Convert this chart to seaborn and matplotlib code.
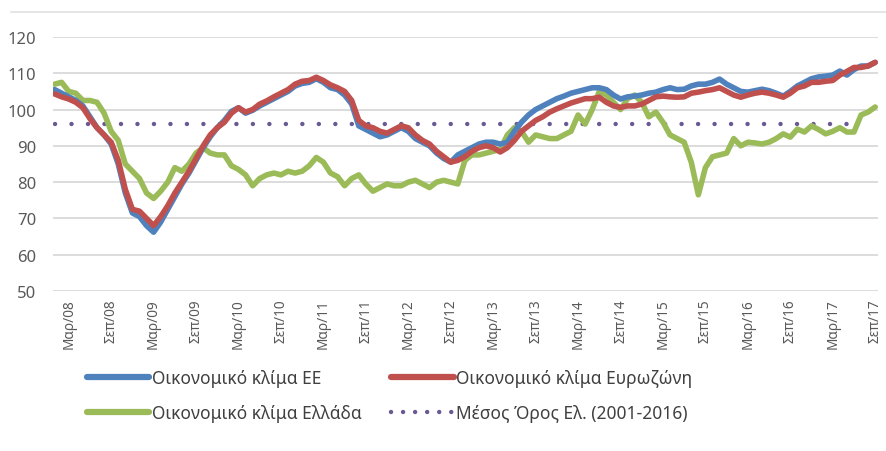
import numpy as np
import pandas as pd
import matplotlib
matplotlib.use('Agg')
import matplotlib.pyplot as plt
from matplotlib.lines import Line2D
import seaborn as sns

# Monthly values, Jan 2008 - Sep 2017 (117 months)
eu_climate = [
    105.5, 104.5, 103.5, 102.5, 101.0, 98.0, 95.0, 93.0, 90.5, 85.0, 77.0, 71.5,
    70.5, 68.0, 66.2, 69.0, 72.5, 76.0, 79.5, 82.5, 86.0, 89.5, 92.5, 95.0,
    97.0, 99.5, 100.5, 99.0, 99.8, 101.0, 102.0, 103.0, 104.0, 105.0, 106.5, 107.2,
    107.5, 108.5, 107.5, 106.0, 105.5, 104.0, 101.5, 95.5, 94.5, 93.5, 92.5, 93.0,
    94.0, 95.0, 94.0, 92.0, 91.0, 90.0, 88.0, 86.5, 85.5, 87.5, 88.5, 89.5,
    90.5, 91.0, 91.0, 90.5, 91.0, 94.0, 96.5, 98.5, 100.0, 101.0, 102.0, 103.0,
    103.7, 104.5, 105.0, 105.5, 106.0, 106.0, 105.5, 104.0, 102.9, 103.5, 103.7, 104.0,
    104.5, 104.8, 105.5, 106.0, 105.5, 105.6, 106.5, 107.0, 107.0, 107.5, 108.4, 107.0,
    106.0, 105.0, 104.8, 105.2, 105.6, 105.2, 104.5, 103.7, 105.0, 106.5, 107.5, 108.5,
    109.0, 109.2, 109.5, 110.6, 109.5, 111.0, 112.0, 112.0, 113.0,
]
ez_climate = [
    104.3, 103.5, 102.9, 102.0, 100.5, 97.5, 95.0, 93.0, 91.0, 86.0, 78.0, 72.5,
    72.0, 70.0, 68.0, 70.5, 73.5, 77.0, 80.0, 83.0, 86.5, 90.0, 93.0, 95.0,
    96.5, 99.0, 100.5, 99.3, 100.0, 101.5, 102.4, 103.5, 104.5, 105.5, 107.0, 107.8,
    108.0, 108.9, 108.0, 106.8, 106.0, 105.0, 102.5, 97.0, 95.5, 95.0, 94.0, 93.5,
    94.5, 95.5, 95.0, 93.0, 91.5, 90.5, 88.5, 87.0, 85.5, 86.0, 87.0, 88.5,
    89.5, 90.0, 89.5, 88.3, 89.5, 91.5, 94.0, 95.5, 97.0, 98.0, 99.3, 100.2,
    101.0, 101.8, 102.4, 103.0, 103.0, 103.4, 102.0, 101.0, 100.6, 101.0, 101.0, 101.5,
    102.5, 103.5, 103.7, 103.5, 103.4, 103.5, 104.5, 104.8, 105.2, 105.5, 106.0, 105.0,
    104.0, 103.4, 104.0, 104.5, 104.8, 104.5, 104.0, 103.4, 104.5, 106.0, 106.5, 107.5,
    107.5, 107.8, 108.0, 109.5, 110.5, 111.6, 111.6, 112.0, 113.0,
]
gr_climate = [
    107.0, 107.5, 105.0, 104.5, 102.5, 102.5, 102.0, 99.0, 94.0, 91.5, 85.0, 83.0,
    81.0, 77.0, 75.5, 77.5, 80.0, 84.0, 83.0, 85.0, 88.0, 89.5, 88.0, 87.5,
    87.5, 84.5, 83.5, 82.0, 79.0, 81.0, 82.0, 82.5, 82.0, 83.0, 82.5, 83.0,
    84.5, 86.8, 85.5, 82.5, 81.5, 79.0, 81.0, 82.0, 79.5, 77.5, 78.5, 79.5,
    79.0, 79.0, 80.0, 80.5, 79.5, 78.5, 80.0, 80.5, 80.0, 79.5, 86.0, 87.5,
    87.5, 88.0, 88.5, 89.0, 93.0, 95.0, 94.0, 91.0, 93.0, 92.5, 92.0, 92.0,
    93.0, 94.0, 98.5, 96.0, 100.0, 105.0, 104.0, 102.0, 100.0, 103.0, 104.0, 102.0,
    98.0, 99.3, 96.5, 93.0, 92.0, 91.0, 85.5, 76.5, 84.0, 87.0, 87.5, 88.0,
    92.0, 90.0, 91.0, 90.8, 90.5, 91.0, 92.0, 93.3, 92.4, 94.6, 93.8, 95.5,
    94.5, 93.3, 94.0, 95.0, 93.8, 93.8, 98.5, 99.3, 100.7,
]
gr_average = 96.0
avg_months = 115

tick_labels = [
    'Μαρ/08', 'Σεπ/08', 'Μαρ/09', 'Σεπ/09', 'Μαρ/10', 'Σεπ/10', 'Μαρ/11',
    'Σεπ/11', 'Μαρ/12', 'Σεπ/12', 'Μαρ/13', 'Σεπ/13', 'Μαρ/14', 'Σεπ/14',
    'Μαρ/15', 'Σεπ/15', 'Μαρ/16', 'Σεπ/16', 'Μαρ/17', 'Σεπ/17',
]
series_names = [
    'Οικονομικό κλίμα ΕΕ',
    'Οικονομικό κλίμα Ευρωζώνη',
    'Οικονομικό κλίμα Ελλάδα',
    'Μέσος Όρος Ελ. (2001-2016)',
]
colors = ['#4F81BD', '#C0504D', '#9BBB59', '#6A5A94']

idx = np.arange(len(eu_climate))
df = pd.DataFrame({'idx': idx, 'eu': eu_climate, 'ez': ez_climate, 'gr': gr_climate})
avg_df = pd.DataFrame({'idx': np.arange(avg_months), 'avg': [gr_average] * avg_months})

sns.set_style('white')
plt.rcParams['font.family'] = ['Noto Sans', 'DejaVu Sans']

fig = plt.figure(figsize=(8.86, 4.52), dpi=100)
ax = fig.add_axes([0.06, 0.354, 0.931, 0.562])

sns.lineplot(data=avg_df, x='idx', y='avg', ax=ax, color=colors[3], linewidth=3.2,
             label=series_names[3], zorder=2)
line_avg = ax.lines[-1]
line_avg.set_dashes((0.01, 3.7))
line_avg.set_dash_capstyle('round')

sns.lineplot(data=df, x='idx', y='gr', ax=ax, color=colors[2], linewidth=4.0,
             label=series_names[2], zorder=3)
sns.lineplot(data=df, x='idx', y='eu', ax=ax, color=colors[0], linewidth=4.0,
             label=series_names[0], zorder=4)
sns.lineplot(data=df, x='idx', y='ez', ax=ax, color=colors[1], linewidth=4.0,
             label=series_names[1], zorder=5)
for ln in ax.lines[1:]:
    ln.set_solid_capstyle('round')
    ln.set_solid_joinstyle('round')

ax.set_xlim(-0.2, 116.4)
ax.set_ylim(50, 120)
ax.set_yticks(range(50, 121, 10))
ax.set_xticks(range(2, len(eu_climate), 6))
ax.set_xticklabels(tick_labels, rotation=90, fontsize=9.8, color='#595959')
ax.tick_params(axis='y', labelsize=12, colors='#595959', length=0, pad=12)
ax.tick_params(axis='x', length=0, pad=5)
ax.set_xlabel('')
ax.set_ylabel('')
ax.grid(axis='y', color='#D9D9D9', linewidth=1.3)
ax.set_axisbelow(True)
for s in ax.spines.values():
    s.set_visible(False)

# top frame line of the chart box
fig.add_artist(Line2D([0.012, 1.0], [0.971, 0.971], color='#E3E3E3', linewidth=1.3))

handles = [
    Line2D([], [], color=colors[0], linewidth=4.5),
    Line2D([], [], color=colors[2], linewidth=4.5),
    Line2D([], [], color=colors[1], linewidth=4.5),
    Line2D([], [], color=colors[3], linewidth=3.2, dashes=(0.01, 2.7), dash_capstyle='round'),
]
labels = [series_names[0], series_names[2], series_names[1], series_names[3]]
ax.legend(handles, labels, ncol=2, loc='upper left', bbox_to_anchor=(0.022, -0.245),
          frameon=False, fontsize=12.5, handlelength=3.6, handletextpad=0.15,
          columnspacing=1.7, labelspacing=1.0, labelcolor='#404040')

fig.savefig('out.png', dpi=100)
